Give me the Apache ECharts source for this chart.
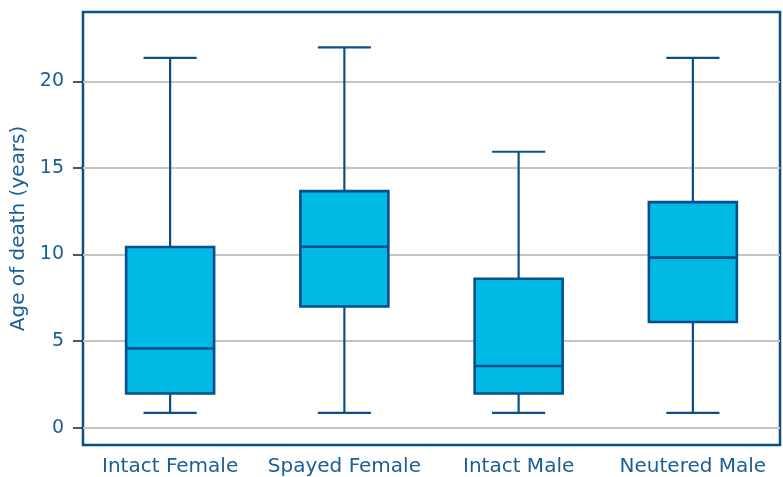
<!DOCTYPE html>
<html>
<head>
<meta charset="utf-8">
<script src="https://cdn.jsdelivr.net/npm/echarts@6/dist/echarts.min.js"></script>
<style>
html,body{margin:0;padding:0;background:#fff;}
#chart{width:783px;height:477px;}
</style>
</head>
<body>
<div id="chart"></div>
<script>
const categories = ['Intact Female', 'Spayed Female', 'Intact Male', 'Neutered Male'];
const lows    = [0.85, 0.85, 0.85, 0.85];
const q1s     = [1.97, 7.0, 1.97, 6.1];
const medians = [4.57, 10.45, 3.56, 9.82];
const q3s     = [10.43, 13.66, 8.6, 13.02];
const highs   = [21.35, 21.96, 15.93, 21.35];
const yTicks  = [0, 5, 10, 15, 20];

const DARK = '#0B4F8A';
const FILL = '#00B9E4';
const TEXT = '#1B5D96';
const FONT = 'DejaVu Sans';

const data = categories.map((c, i) => [i, lows[i], q1s[i], medians[i], q3s[i], highs[i]]);

function renderItem(params, api) {
  const i = api.value(0);
  const pLow = api.coord([i, api.value(1)]);
  const pQ1 = api.coord([i, api.value(2)]);
  const pMed = api.coord([i, api.value(3)]);
  const pQ3 = api.coord([i, api.value(4)]);
  const pHigh = api.coord([i, api.value(5)]);
  const band = api.size([1, 0])[0];
  const bw = band * 0.505;
  const cw = band * 0.305;
  const x = pMed[0];
  const lineStyle = {stroke: DARK, lineWidth: 2.2, fill: null};
  return {
    type: 'group',
    children: [
      {type: 'line', shape: {x1: x, y1: pHigh[1], x2: x, y2: pQ3[1]}, style: lineStyle},
      {type: 'line', shape: {x1: x, y1: pLow[1], x2: x, y2: pQ1[1]}, style: lineStyle},
      {type: 'line', shape: {x1: x - cw / 2, y1: pHigh[1], x2: x + cw / 2, y2: pHigh[1]}, style: lineStyle},
      {type: 'line', shape: {x1: x - cw / 2, y1: pLow[1], x2: x + cw / 2, y2: pLow[1]}, style: lineStyle},
      {type: 'rect', shape: {x: x - bw / 2, y: pQ3[1], width: bw, height: pQ1[1] - pQ3[1]},
        style: {fill: FILL, stroke: DARK, lineWidth: 2.6}},
      {type: 'line', shape: {x1: x - bw / 2, y1: pMed[1], x2: x + bw / 2, y2: pMed[1]}, style: {stroke: DARK, lineWidth: 2.6}}
    ]
  };
}

const chart = echarts.init(document.getElementById('chart'), null, {renderer: 'canvas'});
chart.setOption({
  animation: false,
  backgroundColor: '#fff',
  grid: {left: 83, right: 3, top: 12, bottom: 32, show: true, borderColor: DARK, borderWidth: 2.5, backgroundColor: 'transparent', containLabel: false},
  xAxis: {
    type: 'category',
    data: categories,
    axisLine: {show: false},
    axisTick: {show: false},
    splitLine: {show: false},
    axisLabel: {interval: 0, hideOverlap: false, color: TEXT, fontFamily: FONT, fontSize: 20, margin: 12}
  },
  yAxis: {
    type: 'value',
    min: -1,
    max: 24,
    name: 'Age of death (years)',
    nameLocation: 'middle',
    nameRotate: 90,
    nameGap: 50,
    nameTextStyle: {color: TEXT, fontFamily: FONT, fontSize: 20},
    axisLine: {show: false},
    axisTick: {show: true, customValues: yTicks, length: 10, lineStyle: {color: '#222', width: 1.5}},
    axisLabel: {customValues: yTicks, color: TEXT, fontFamily: FONT, fontSize: 19, margin: 19},
    splitLine: {show: true, customValues: yTicks, lineStyle: {color: '#C4C4C4', width: 2}}
  },
  series: [{
    type: 'custom',
    renderItem: renderItem,
    encode: {x: 0, y: [1, 2, 3, 4, 5]},
    data: data,
    z: 10
  }]
});
</script>
</body>
</html>
